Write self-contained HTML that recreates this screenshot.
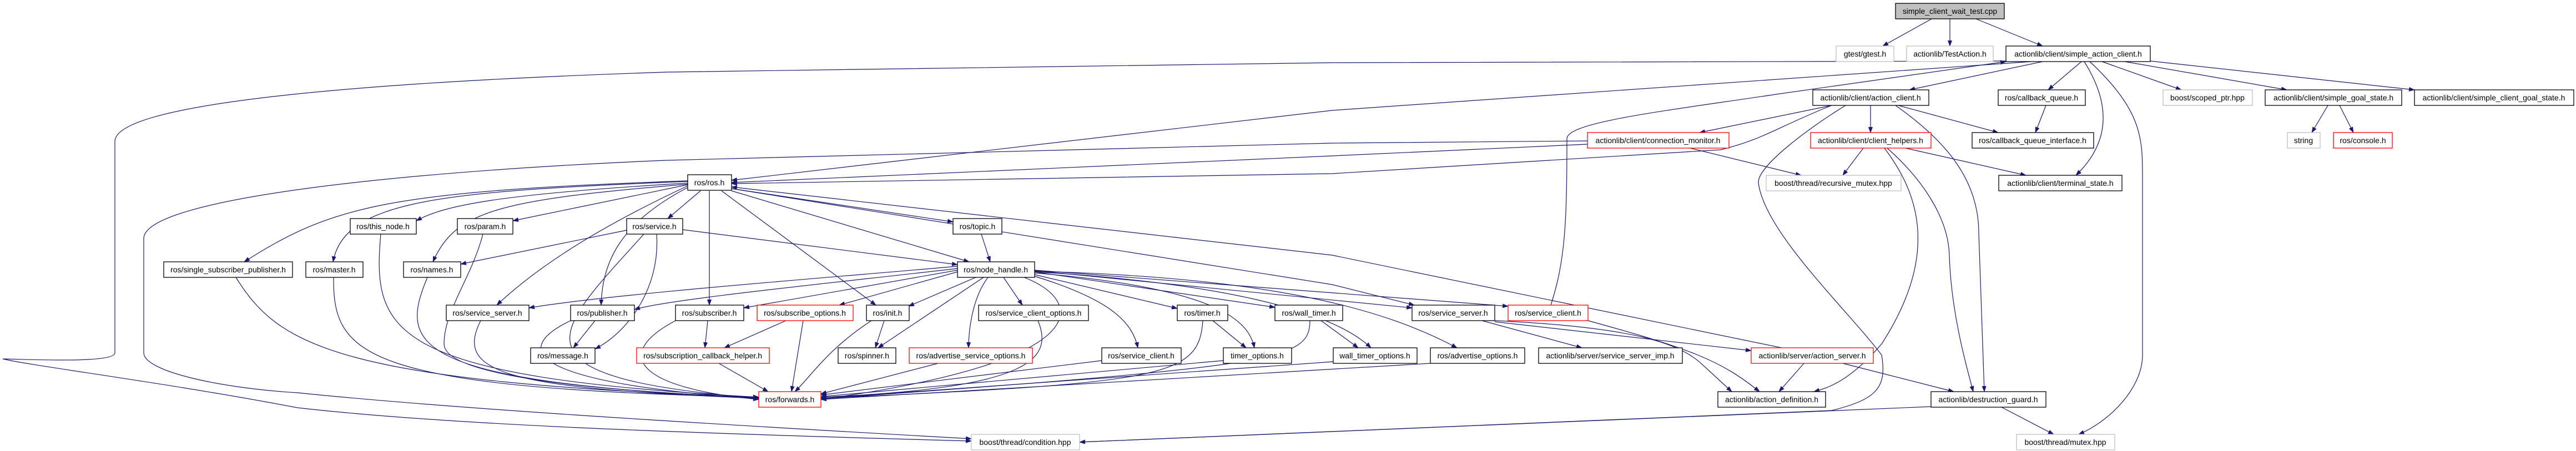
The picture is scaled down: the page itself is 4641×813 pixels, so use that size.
<!DOCTYPE html>
<html><head><meta charset="utf-8"><style>
html,body{margin:0;padding:0;background:#fff;}
svg{display:block;}
text{font-family:"Liberation Sans",sans-serif;font-size:14px;text-anchor:middle;fill:#000;}
.e{fill:none;stroke:#191970;stroke-width:1.2;marker-end:url(#a);}
.n{fill:#fff;stroke:#000;stroke-width:1.3;}
.r{fill:#fff;stroke:#ff0000;stroke-width:1.3;}
.g{fill:#fff;stroke:#bfbfbf;stroke-width:1.3;}
</style></head><body>
<svg width="4641" height="813" viewBox="0 0 4641 813" xmlns="http://www.w3.org/2000/svg">
<defs><marker id="a" markerUnits="userSpaceOnUse" markerWidth="11" markerHeight="8" refX="10" refY="4" orient="auto"><path d="M0,0 L11,4 L0,8 z" fill="#191970"/></marker></defs>
<g>
<path class="e" d="M3480,34 L3392,83"/>
<path class="e" d="M3513,34 L3513,83"/>
<path class="e" d="M3560,34 L3680,83"/>
<path class="e" d="M3680,111 L3440,162"/>
<path class="e" d="M3750,111 L3690,162"/>
<path class="e" d="M3755,111 Q3830,230 3740,316"/>
<path class="e" d="M3765,111 C3860,200 3860,250 3860,320 L3860,640 C3860,700 3800,760 3745,783"/>
<path class="e" d="M3787,111 L3930,162"/>
<path class="e" d="M3828,111 L4120,162"/>
<path class="e" d="M3874,110 L4350,162"/>
<path class="e" d="M3660,111 L2400,199 L1318,325"/>
<path class="e" d="M3614,110 L2400,113 L1200,130 C600,150 207,190 207,255 L207,636 C207,655 60,648 5,647 C60,660 300,690 536,735 C800,765 1200,780 1750,795"/>
<path class="e" d="M2860,254 L2400,258 L1200,289 C700,310 259,360 259,430 L259,636 C259,670 400,700 536,708 C800,735 1200,760 1750,791"/>
<path class="e" d="M2860,260 L2400,281 L1318,329"/>
<path class="e" d="M3300,190 C3200,230 3180,250 3100,270 L2400,313 L1318,331"/>
<path class="e" d="M3300,190 L3062,239"/>
<path class="e" d="M3370,190 L3370,239"/>
<path class="e" d="M3420,190 L3600,239"/>
<path class="e" d="M3433,267 L3650,316"/>
<path class="e" d="M3415,190 C3500,250 3565,320 3565,420 L3575,706"/>
<path class="e" d="M3325,190 C3260,230 3165,300 3168,330 C3180,420 3330,560 3390,640 C3400,700 3380,720 3300,740 L1945,797"/>
<path class="e" d="M3357,267 L3320,316"/>
<path class="e" d="M3395,267 C3450,340 3500,450 3390,620 C3330,690 3290,700 3268,706"/>
<path class="e" d="M3400,267 C3460,320 3510,390 3512,460 C3515,560 3540,650 3555,706"/>
<path class="e" d="M3045,267 L3245,316"/>
<path class="e" d="M3686,190 L3667,239"/>
<path class="e" d="M4194,190 L4165,239"/>
<path class="e" d="M4215,190 L4240,239"/>
<path class="e" d="M2794,550 C2820,470 2823,400 2823,250 C2823,220 3000,200 3200,170 L3614,111"/>
<path class="e" d="M3210,627 L2400,460 L1318,337"/>
<path class="e" d="M1318,340 L2400,513 L2548,550"/>
<path class="e" d="M1239,330 C900,350 800,370 750,398"/>
<path class="e" d="M1239,333 L924,398"/>
<path class="e" d="M1239,327 C800,345 620,360 600,472"/>
<path class="e" d="M1239,326 C700,345 600,370 440,472"/>
<path class="e" d="M1239,332 C900,360 820,380 780,472"/>
<path class="e" d="M1262,344 L1203,394"/>
<path class="e" d="M1239,335 C1100,400 980,470 895,550"/>
<path class="e" d="M1239,338 C1120,400 1085,470 1083,550"/>
<path class="e" d="M1278,344 L1278,550"/>
<path class="e" d="M1300,344 L1578,550"/>
<path class="e" d="M1318,340 L1717,400"/>
<path class="e" d="M1318,344 L1746,472"/>
<path class="e" d="M1129,415 L830,476"/>
<path class="e" d="M1230,414 L1725,477"/>
<path class="e" d="M1160,422 C1000,600 900,680 1367,718"/>
<path class="e" d="M1183,422 C1190,520 1130,600 1072,629"/>
<path class="e" d="M1768,422 L1784,472"/>
<path class="e" d="M686,422 C670,600 700,680 1367,716"/>
<path class="e" d="M870,422 C850,500 800,560 800,620 C800,690 1200,710 1367,717"/>
<path class="e" d="M770,500 C720,620 730,690 1367,717"/>
<path class="e" d="M601,500 C600,640 650,700 1367,716"/>
<path class="e" d="M425,500 C500,620 600,690 1367,716"/>
<path class="e" d="M866,578 C820,670 900,700 1367,718"/>
<path class="e" d="M1072,578 L1033,627"/>
<path class="e" d="M1028,578 C920,630 950,690 1367,719"/>
<path class="e" d="M1275,578 L1270,627"/>
<path class="e" d="M1217,578 C1100,640 1150,700 1367,720"/>
<path class="e" d="M1416,578 L1305,627"/>
<path class="e" d="M1447,578 L1426,706"/>
<path class="e" d="M1593,578 L1577,627"/>
<path class="e" d="M1570,578 C1490,630 1460,680 1432,706"/>
<path class="e" d="M1295,655 L1384,706"/>
<path class="e" d="M1725,480 C1500,500 1100,530 953,555"/>
<path class="e" d="M1725,484 C1500,510 1200,540 1143,558"/>
<path class="e" d="M1725,487 L1340,555"/>
<path class="e" d="M1725,490 L1512,550"/>
<path class="e" d="M1758,500 L1637,552"/>
<path class="e" d="M1772,500 L1582,627"/>
<path class="e" d="M1780,500 C1750,540 1745,600 1745,627"/>
<path class="e" d="M1808,500 L1842,550"/>
<path class="e" d="M1845,500 C1950,540 1990,650 1479,720"/>
<path class="e" d="M1864,498 C2000,540 2040,580 2050,627"/>
<path class="e" d="M1864,495 L2121,556"/>
<path class="e" d="M1864,492 C2200,520 2250,580 2260,627"/>
<path class="e" d="M1864,490 L2297,554"/>
<path class="e" d="M1864,490 C2200,510 2400,560 2470,627"/>
<path class="e" d="M1864,489 C2300,500 2500,560 2625,627"/>
<path class="e" d="M1864,488 L2544,555"/>
<path class="e" d="M1864,487 L2717,552"/>
<path class="e" d="M2670,578 L2850,627"/>
<path class="e" d="M2693,578 C2950,590 3030,620 3070,660 L3120,706"/>
<path class="e" d="M2693,580 L3155,632"/>
<path class="e" d="M2861,578 C3050,630 3100,650 3170,706"/>
<path class="e" d="M3250,655 L3205,706"/>
<path class="e" d="M3320,655 L3520,706"/>
<path class="e" d="M3606,734 L3700,783"/>
<path class="e" d="M3479,733 L1945,797"/>
<path class="e" d="M1985,650 L1479,712"/>
<path class="e" d="M1870,578 C1900,650 1850,700 1479,716"/>
<path class="e" d="M1690,655 L1479,710"/>
<path class="e" d="M2167,578 C2160,680 2100,690 1479,718"/>
<path class="e" d="M2185,578 L2245,627"/>
<path class="e" d="M2380,578 L2447,627"/>
<path class="e" d="M2360,578 C2360,650 2300,660 1479,719"/>
<path class="e" d="M2204,650 L1479,715"/>
<path class="e" d="M2402,652 L1479,718"/>
<path class="e" d="M2577,655 L1479,720"/>
</g>
<g>
<rect x="3415" y="6" width="196" height="28" fill="#bfbfbf" stroke="#000" stroke-width="1.3"/><text x="3513" y="25">simple_client_wait_test.cpp</text>
<rect class="g" x="3308" y="83" width="104" height="28"/><text x="3360" y="102">gtest/gtest.h</text>
<rect class="g" x="3435" y="83" width="156" height="28"/><text x="3513" y="102">actionlib/TestAction.h</text>
<rect class="n" x="3614" y="83" width="260" height="28"/><text x="3744" y="102">actionlib/client/simple_action_client.h</text>
<rect class="n" x="3266" y="162" width="209" height="28"/><text x="3370" y="181">actionlib/client/action_client.h</text>
<rect class="n" x="3600" y="162" width="157" height="28"/><text x="3678" y="181">ros/callback_queue.h</text>
<rect class="g" x="3897" y="162" width="161" height="28"/><text x="3977" y="181">boost/scoped_ptr.hpp</text>
<rect class="n" x="4081" y="162" width="246" height="28"/><text x="4204" y="181">actionlib/client/simple_goal_state.h</text>
<rect class="n" x="4350" y="162" width="287" height="28"/><text x="4493" y="181">actionlib/client/simple_client_goal_state.h</text>
<rect class="r" x="2860" y="239" width="255" height="28"/><text x="2987" y="258">actionlib/client/connection_monitor.h</text>
<rect class="r" x="3262" y="239" width="217" height="28"/><text x="3370" y="258">actionlib/client/client_helpers.h</text>
<rect class="n" x="3553" y="239" width="219" height="28"/><text x="3662" y="258">ros/callback_queue_interface.h</text>
<rect class="g" x="4121" y="239" width="59" height="28"/><text x="4150" y="258">string</text>
<rect class="r" x="4204" y="239" width="106" height="28"/><text x="4257" y="258">ros/console.h</text>
<rect class="n" x="1239" y="315" width="79" height="28"/><text x="1278" y="334">ros/ros.h</text>
<rect class="g" x="3182" y="316" width="243" height="28"/><text x="3303" y="335">boost/thread/recursive_mutex.hpp</text>
<rect class="n" x="3601" y="316" width="222" height="28"/><text x="3712" y="335">actionlib/client/terminal_state.h</text>
<rect class="n" x="631" y="394" width="119" height="28"/><text x="690" y="413">ros/this_node.h</text>
<rect class="n" x="824" y="394" width="100" height="28"/><text x="874" y="413">ros/param.h</text>
<rect class="n" x="1129" y="394" width="101" height="28"/><text x="1179" y="413">ros/service.h</text>
<rect class="n" x="1717" y="394" width="88" height="28"/><text x="1761" y="413">ros/topic.h</text>
<rect class="n" x="295" y="472" width="232" height="28"/><text x="411" y="491">ros/single_subscriber_publisher.h</text>
<rect class="n" x="551" y="472" width="103" height="28"/><text x="602" y="491">ros/master.h</text>
<rect class="n" x="727" y="472" width="103" height="28"/><text x="778" y="491">ros/names.h</text>
<rect class="n" x="1725" y="472" width="139" height="28"/><text x="1794" y="491">ros/node_handle.h</text>
<rect class="n" x="804" y="550" width="149" height="28"/><text x="878" y="569">ros/service_server.h</text>
<rect class="n" x="1028" y="550" width="115" height="28"/><text x="1085" y="569">ros/publisher.h</text>
<rect class="n" x="1217" y="550" width="123" height="28"/><text x="1278" y="569">ros/subscriber.h</text>
<rect class="r" x="1364" y="550" width="173" height="28"/><text x="1450" y="569">ros/subscribe_options.h</text>
<rect class="n" x="1561" y="550" width="77" height="28"/><text x="1599" y="569">ros/init.h</text>
<rect class="n" x="1763" y="550" width="198" height="28"/><text x="1862" y="569">ros/service_client_options.h</text>
<rect class="n" x="2121" y="550" width="91" height="28"/><text x="2166" y="569">ros/timer.h</text>
<rect class="n" x="2297" y="550" width="122" height="28"/><text x="2358" y="569">ros/wall_timer.h</text>
<rect class="n" x="2544" y="550" width="149" height="28"/><text x="2618" y="569">ros/service_server.h</text>
<rect class="r" x="2717" y="550" width="144" height="28"/><text x="2789" y="569">ros/service_client.h</text>
<rect class="n" x="956" y="627" width="116" height="28"/><text x="1014" y="646">ros/message.h</text>
<rect class="r" x="1147" y="627" width="239" height="28"/><text x="1266" y="646">ros/subscription_callback_helper.h</text>
<rect class="n" x="1510" y="627" width="104" height="28"/><text x="1562" y="646">ros/spinner.h</text>
<rect class="r" x="1638" y="627" width="222" height="28"/><text x="1749" y="646">ros/advertise_service_options.h</text>
<rect class="n" x="1985" y="627" width="143" height="28"/><text x="2056" y="646">ros/service_client.h</text>
<rect class="n" x="2204" y="627" width="123" height="28"/><text x="2265" y="646">timer_options.h</text>
<rect class="n" x="2402" y="627" width="151" height="28"/><text x="2477" y="646">wall_timer_options.h</text>
<rect class="n" x="2577" y="627" width="170" height="28"/><text x="2662" y="646">ros/advertise_options.h</text>
<rect class="n" x="2772" y="627" width="259" height="28"/><text x="2901" y="646">actionlib/server/service_server_imp.h</text>
<rect class="r" x="3155" y="627" width="220" height="28"/><text x="3265" y="646">actionlib/server/action_server.h</text>
<rect class="r" x="1367" y="706" width="112" height="28"/><text x="1423" y="725">ros/forwards.h</text>
<rect class="n" x="3095" y="706" width="194" height="28"/><text x="3192" y="725">actionlib/action_definition.h</text>
<rect class="n" x="3479" y="706" width="207" height="28"/><text x="3582" y="725">actionlib/destruction_guard.h</text>
<rect class="g" x="1750" y="783" width="195" height="28"/><text x="1847" y="802">boost/thread/condition.hpp</text>
<rect class="g" x="3633" y="783" width="177" height="28"/><text x="3721" y="802">boost/thread/mutex.hpp</text>
</g>
</svg>
</body></html>
